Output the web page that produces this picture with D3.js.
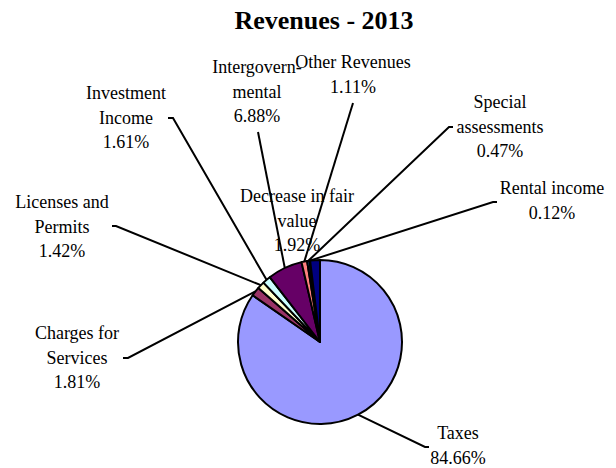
<!DOCTYPE html>
<html>
<head>
<meta charset="utf-8">
<script src="https://cdn.jsdelivr.net/npm/d3@7"></script>
<style>
  body { margin: 0; background: #fff; }
  svg text { font-family: "Liberation Serif", "Times New Roman", serif; fill: #000; }
</style>
</head>
<body>
<svg id="chart" width="616" height="468"></svg>
<script>
// data
var categories = ["Taxes", "Charges for Services", "Licenses and Permits", "Investment Income",
                  "Intergovernmental", "Other Revenues", "Special assessments", "Rental income",
                  "Decrease in fair value"];
var values = [84.66, 1.81, 1.42, 1.61, 6.88, 1.11, 0.47, 0.12, 1.92];
var labelLines = [["Taxes"], ["Charges for", "Services"], ["Licenses and", "Permits"],
                  ["Investment", "Income"], ["Intergovern-", "mental"], ["Other Revenues"],
                  ["Special", "assessments"], ["Rental income"], ["Decrease in fair", "value"]];
var colors = ["#9999FF", "#993366", "#FFFFCC", "#CCFFFF", "#660066", "#FF8080",
              "#0066CC", "#CCCCFF", "#000080"];

// label layout: text centre (x, y of first line) and leader line end (lx, ly, tick direction)
var labelPos = [
  {x: 458, y: 433, lx: 425, ly: 447, tick: 4},
  {x: 77,  y: 333, lx: 128, ly: 358, tick: -5},
  {x: 62,  y: 202, lx: 116, ly: 226, tick: -4},
  {x: 126, y: 93,  lx: 173, ly: 118, tick: -5},
  {x: 257, y: 67,  lx: 258, ly: 132, tick: 0},
  {x: 353, y: 62,  lx: 353, ly: 103, tick: 0},
  {x: 500, y: 102, lx: 449, ly: 127, tick: 4},
  {x: 552, y: 188, lx: 493, ly: 202, tick: 4},
  {x: 297, y: 196, lx: null, ly: null, tick: 0}
];

var svg = d3.select("#chart");
var cx = 320, cy = 342, r = 82, lineH = 24.5;

svg.append("text")
  .attr("x", 324).attr("y", 20)
  .attr("text-anchor", "middle")
  .attr("dominant-baseline", "central")
  .style("font-size", "26px")
  .style("font-weight", "bold")
  .text("Revenues - 2013");

var data = categories.map((c, i) => ({name: c, value: values[i], i: i}));

var pie = d3.pie().value(d => d.value).sort(null);
var arc = d3.arc().innerRadius(0).outerRadius(r);
var arcs = pie(data);

var g = svg.append("g").attr("transform", `translate(${cx},${cy})`);

g.selectAll("path")
  .data(arcs)
  .enter()
  .append("path")
  .attr("d", arc)
  .attr("fill", d => colors[d.data.i])
  .attr("stroke", "#000")
  .attr("stroke-width", 2)
  .attr("stroke-linejoin", "round");

// leader lines
arcs.forEach(function(a, i) {
  var p = labelPos[i];
  if (p.lx === null) return;
  var mid = (a.startAngle + a.endAngle) / 2;
  var ex = cx + r * Math.sin(mid), ey = cy - r * Math.cos(mid);
  var pts = [[ex, ey], [p.lx, p.ly]];
  if (p.tick) pts.push([p.lx + p.tick, p.ly]);
  svg.append("path")
    .attr("d", d3.line()(pts))
    .attr("fill", "none")
    .attr("stroke", "#000")
    .attr("stroke-width", 2);
});

// labels
arcs.forEach(function(a, i) {
  var p = labelPos[i];
  var lines = labelLines[i].concat([values[i].toFixed(2) + "%"]);
  var t = svg.append("text")
    .attr("text-anchor", "middle")
    .style("font-size", "18px");
  lines.forEach(function(l, k) {
    t.append("tspan")
      .attr("x", p.x)
      .attr("y", p.y + k * lineH)
      .attr("dominant-baseline", "central")
      .text(l);
  });
});
</script>
</body>
</html>
